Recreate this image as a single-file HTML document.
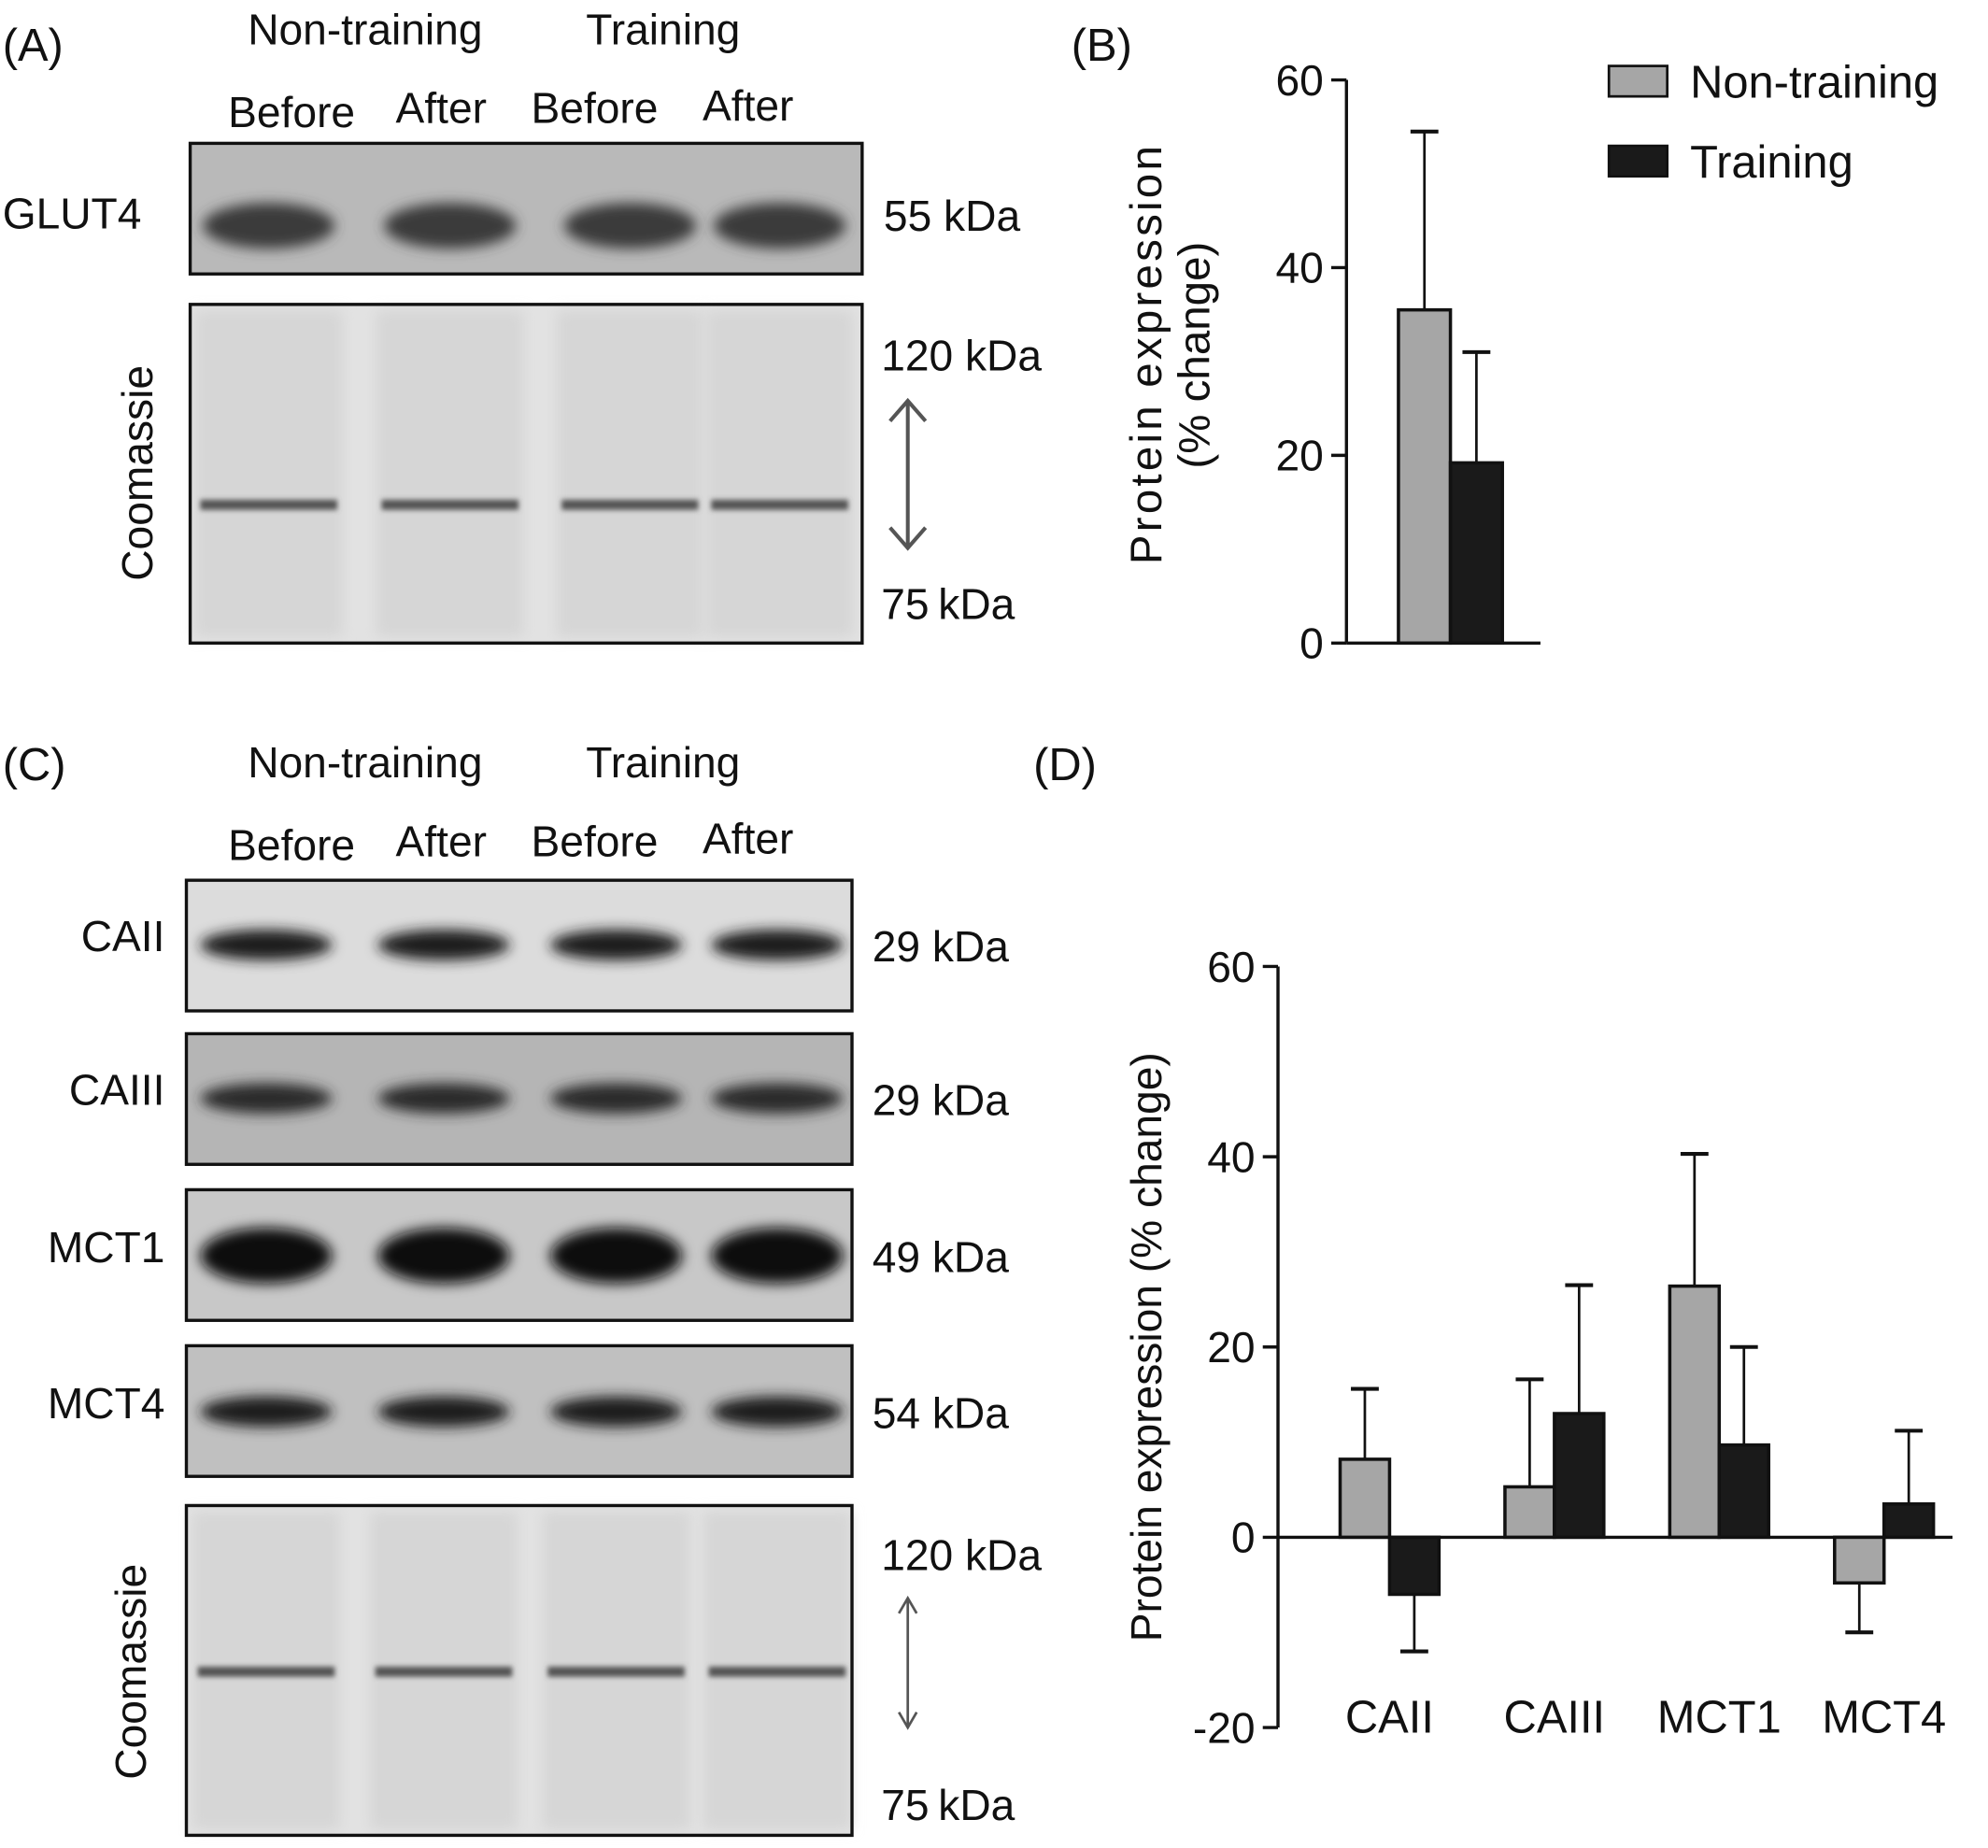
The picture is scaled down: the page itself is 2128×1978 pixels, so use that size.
<!DOCTYPE html>
<html><head><meta charset="utf-8"><style>
html,body{margin:0;padding:0;background:#fff}
svg{display:block}
text{font-family:"Liberation Sans",Arial,sans-serif;fill:#111}
</style></head><body>
<svg width="2128" height="1978" viewBox="0 0 1568 1457" preserveAspectRatio="none">
<defs>
<filter id="blur" x="-20%" y="-50%" width="140%" height="200%"><feGaussianBlur stdDeviation="5"/></filter>
<filter id="blur2" x="-20%" y="-50%" width="140%" height="200%"><feGaussianBlur stdDeviation="2"/></filter>
</defs>
<g id="blots"></g>
<g id="chartB"></g>
<g id="chartD"></g>
</svg>
<script>
// Chart B data
const bSeries = ["Non-training","Training"];
const bValues = [35.5, 19.2];
const bErrors = [19.0, 11.8];
const bTicks = [0,20,40,60];
// Chart D data
const dCategories = ["CAII","CAIII","MCT1","MCT4"];
const dNonTraining = [8.2, 5.3, 26.4, -4.8];
const dNonTrainingErr = [7.4, 11.3, 13.9, -5.2];
const dTraining = [-6, 13, 9.7, 3.5];
const dTrainingErr = [-6, 13.5, 10.3, 7.7];
const dTicks = [-20,0,20,40,60];

const NS="http://www.w3.org/2000/svg";
function mk(parent,tag,attrs,txt){const e=document.createElementNS(NS,tag);for(const k in attrs)e.setAttribute(k,attrs[k]);if(txt!==undefined)e.textContent=txt;parent.appendChild(e);return e;}

// ---------- Blots ----------
const bl=document.getElementById('blots');
function txt(x,y,s,size,anchor,extra){const t=mk(bl,'text',Object.assign({x:x,y:y,'font-size':size,'text-anchor':anchor||'start'},extra||{}),s);

return t;}
function blot(x,y,w,h,lanes,bandY,bandH,dark,bg,name){
  const g=mk(bl,'g',{});
  
  
  mk(g,'rect',{x:x,y:y,width:w,height:h,fill:bg});
  lanes.forEach(cx=>{mk(g,'ellipse',{cx:cx,cy:bandY,rx:52,ry:bandH,fill:dark,filter:'url(#blur)'});});
  mk(g,'rect',{x:x,y:y,width:w,height:h,fill:'none',stroke:'#111','stroke-width':2.5});
}
function coomassie(x,y,w,h,lanes,bandY,name){
  const g=mk(bl,'g',{});
  
  
  mk(g,'rect',{x:x,y:y,width:w,height:h,fill:'#e2e2e2'});
  lanes.forEach(cx=>{
    mk(g,'rect',{x:cx-58,y:y+5,width:116,height:h-10,fill:'#d6d6d6',filter:'url(#blur)'});
    mk(g,'rect',{x:cx-54,y:bandY-4,width:108,height:8,fill:'#555',filter:'url(#blur2)'});
  });
  mk(g,'rect',{x:x,y:y,width:w,height:h,fill:'none',stroke:'#111','stroke-width':2.5});
}
const lanesA=[212,355,497,615];
// Panel A
txt(2,48,'(A)',36);
txt(288,35,'Non-training',34,'middle',{fill:'#555'});
txt(523,35,'Training',34,'middle',{fill:'#555'});
txt(230,100,'Before',34,'middle');txt(348,97,'After',34,'middle');txt(469,97,'Before',34,'middle');txt(590,95,'After',34,'middle');
txt(2,180,'GLUT4',34);
blot(150,113,530,103,lanesA,178,18,'#3a3a3a','#b9b9b9','glut4-blot');
txt(697,182,'55  kDa',34);
coomassie(150,240,530,267,lanesA,398,'coomassie-blot-a');
txt(120,373,'Coomassie',34,'middle',{transform:'rotate(-90 120 373)'});
txt(695,292,'120 kDa',34);txt(695,488,'75',34);txt(740,488,'kDa',34);
mk(bl,'line',{x1:716,y1:318,x2:716,y2:430,stroke:'#555','stroke-width':3});
mk(bl,'path',{d:'M702 332 L716 316 L730 332 M702 416 L716 432 L730 416',fill:'none',stroke:'#555','stroke-width':3});
// Panel C
txt(2,615,'(C)',36);
txt(288,613,'Non-training',34,'middle',{fill:'#999'});
txt(523,613,'Training',34,'middle',{fill:'#999'});
txt(230,678,'Before',34,'middle');txt(348,675,'After',34,'middle');txt(469,675,'Before',34,'middle');txt(590,673,'After',34,'middle');
const lanesC=[210,350,486,613];
const blotsC=[["CAII",694,'#1e1e1e','#dcdcdc','29 kDa',745],["CAIII",815,'#2a2a2a','#b5b5b5','29 kDa',866],["MCT1",938,'#111','#c8c8c8','49 kDa',990],["MCT4",1061,'#1c1c1c','#c0c0c0','54 kDa',1113]];
blotsC.forEach(b=>{
  txt(130,b[5]+5,b[0],34,'end');
  blot(147,b[1],525,103,lanesC,b[5],b[0]==="MCT1"?22:12,b[2],b[3],b[0].toLowerCase()+'-blot');
  txt(688,b[5]+13,b[4],34);
});
coomassie(147,1187,525,260,lanesC,1318,'coomassie-blot-c');
txt(115,1318,'Coomassie',34,'middle',{transform:'rotate(-90 115 1318)'});
txt(695,1238,'120 kDa',34);txt(695,1435,'75',34);txt(740,1435,'kDa',34);
mk(bl,'line',{x1:716,y1:1262,x2:716,y2:1360,stroke:'#555','stroke-width':2});
mk(bl,'path',{d:'M709 1272 L716 1260 L723 1272 M709 1350 L716 1362 L723 1350',fill:'none',stroke:'#555','stroke-width':2});

// ---------- Chart B ----------
(function(){
const g=document.getElementById('chartB');
const y0=507,pxPer=148/20,ax=1062;
const y=v=>y0-v*pxPer;
const t=mk(g,'text',{x:845,y:48,'font-size':36},'(B)');

let a=mk(g,'line',{x1:ax,y1:y(60),x2:ax,y2:y0,stroke:'#111','stroke-width':2.5});

a=mk(g,'line',{x1:ax,y1:y0,x2:1215,y2:y0,stroke:'#111','stroke-width':2.5});

bTicks.forEach(v=>{
  const l=mk(g,'line',{x1:ax-12,y1:y(v),x2:ax,y2:y(v),stroke:'#111','stroke-width':2.5});
  
  const tx=mk(g,'text',{x:ax-18,y:y(v)+12,'font-size':34,'text-anchor':'end'},String(v));
  
});
const yt=mk(g,'text',{x:0,y:0,'font-size':35,'text-anchor':'middle',transform:'translate(916 280) rotate(-90)'});

mk(yt,'tspan',{x:0,dy:0,textLength:330},'Protein expression');mk(yt,'tspan',{x:0,dy:38},'(% change)');
const fills=['#a6a6a6','#1a1a1a'];
bValues.forEach((v,i)=>{
  const x=1103+i*41;
  const e=mk(g,'line',{x1:x+20.5,y1:y(v),x2:x+20.5,y2:y(v+bErrors[i]),stroke:'#111','stroke-width':2});
  
  const c=mk(g,'line',{x1:x+9.5,y1:y(v+bErrors[i]),x2:x+31.5,y2:y(v+bErrors[i]),stroke:'#111','stroke-width':3});
  
  const r=mk(g,'rect',{x:x,y:y(v),width:41,height:y0-y(v),fill:fills[i],stroke:'#111','stroke-width':2.6});
  
});
bSeries.forEach((s,i)=>{
  const r=mk(g,'rect',{x:1269,y:52+i*63,width:46,height:24,fill:fills[i],stroke:'#111','stroke-width':2});
  
  const tx=mk(g,'text',{x:1333,y:77+i*63,'font-size':36},s);
  
});
})();

// ---------- Chart D ----------
(function(){
const g=document.getElementById('chartD');
const y0=1212,pxPer=7.5,ax=1008;
const y=v=>y0-v*pxPer;
const t=mk(g,'text',{x:815,y:615,'font-size':36},'(D)');

let a=mk(g,'line',{x1:ax,y1:y(60),x2:ax,y2:y(-20),stroke:'#111','stroke-width':2.5});

a=mk(g,'line',{x1:ax,y1:y0,x2:1540,y2:y0,stroke:'#111','stroke-width':2.5});

dTicks.forEach(v=>{
  const l=mk(g,'line',{x1:ax-12,y1:y(v),x2:ax,y2:y(v),stroke:'#111','stroke-width':2.5});
  
  const tx=mk(g,'text',{x:ax-18,y:y(v)+12,'font-size':34,'text-anchor':'end'},String(v));
  
});
const yt=mk(g,'text',{x:0,y:0,'font-size':34,'text-anchor':'middle',transform:'translate(916 1062) rotate(-90)'},'Protein expression (% change)');

const fills=['#a6a6a6','#1a1a1a'];
dCategories.forEach((c,ci)=>{
  const cx=1096+ci*130;
  [[dNonTraining,dNonTrainingErr],[dTraining,dTrainingErr]].forEach((s,si)=>{
    const v=s[0][ci],e=s[1][ci];
    const x=cx-39+si*39;
    const ln=mk(g,'line',{x1:x+19.5,y1:y(v),x2:x+19.5,y2:y(v+e),stroke:'#111','stroke-width':2});
    
    const cp=mk(g,'line',{x1:x+8.5,y1:y(v+e),x2:x+30.5,y2:y(v+e),stroke:'#111','stroke-width':3});
    
    const r=mk(g,'rect',{x:x,y:Math.min(y(v),y0),width:39,height:Math.abs(y(v)-y0),fill:fills[si],stroke:'#111','stroke-width':2.6});
    
  });
  const tx=mk(g,'text',{x:cx,y:1366,'font-size':36,'text-anchor':'middle'},c);
  
});
})();
</script>
</body></html>
